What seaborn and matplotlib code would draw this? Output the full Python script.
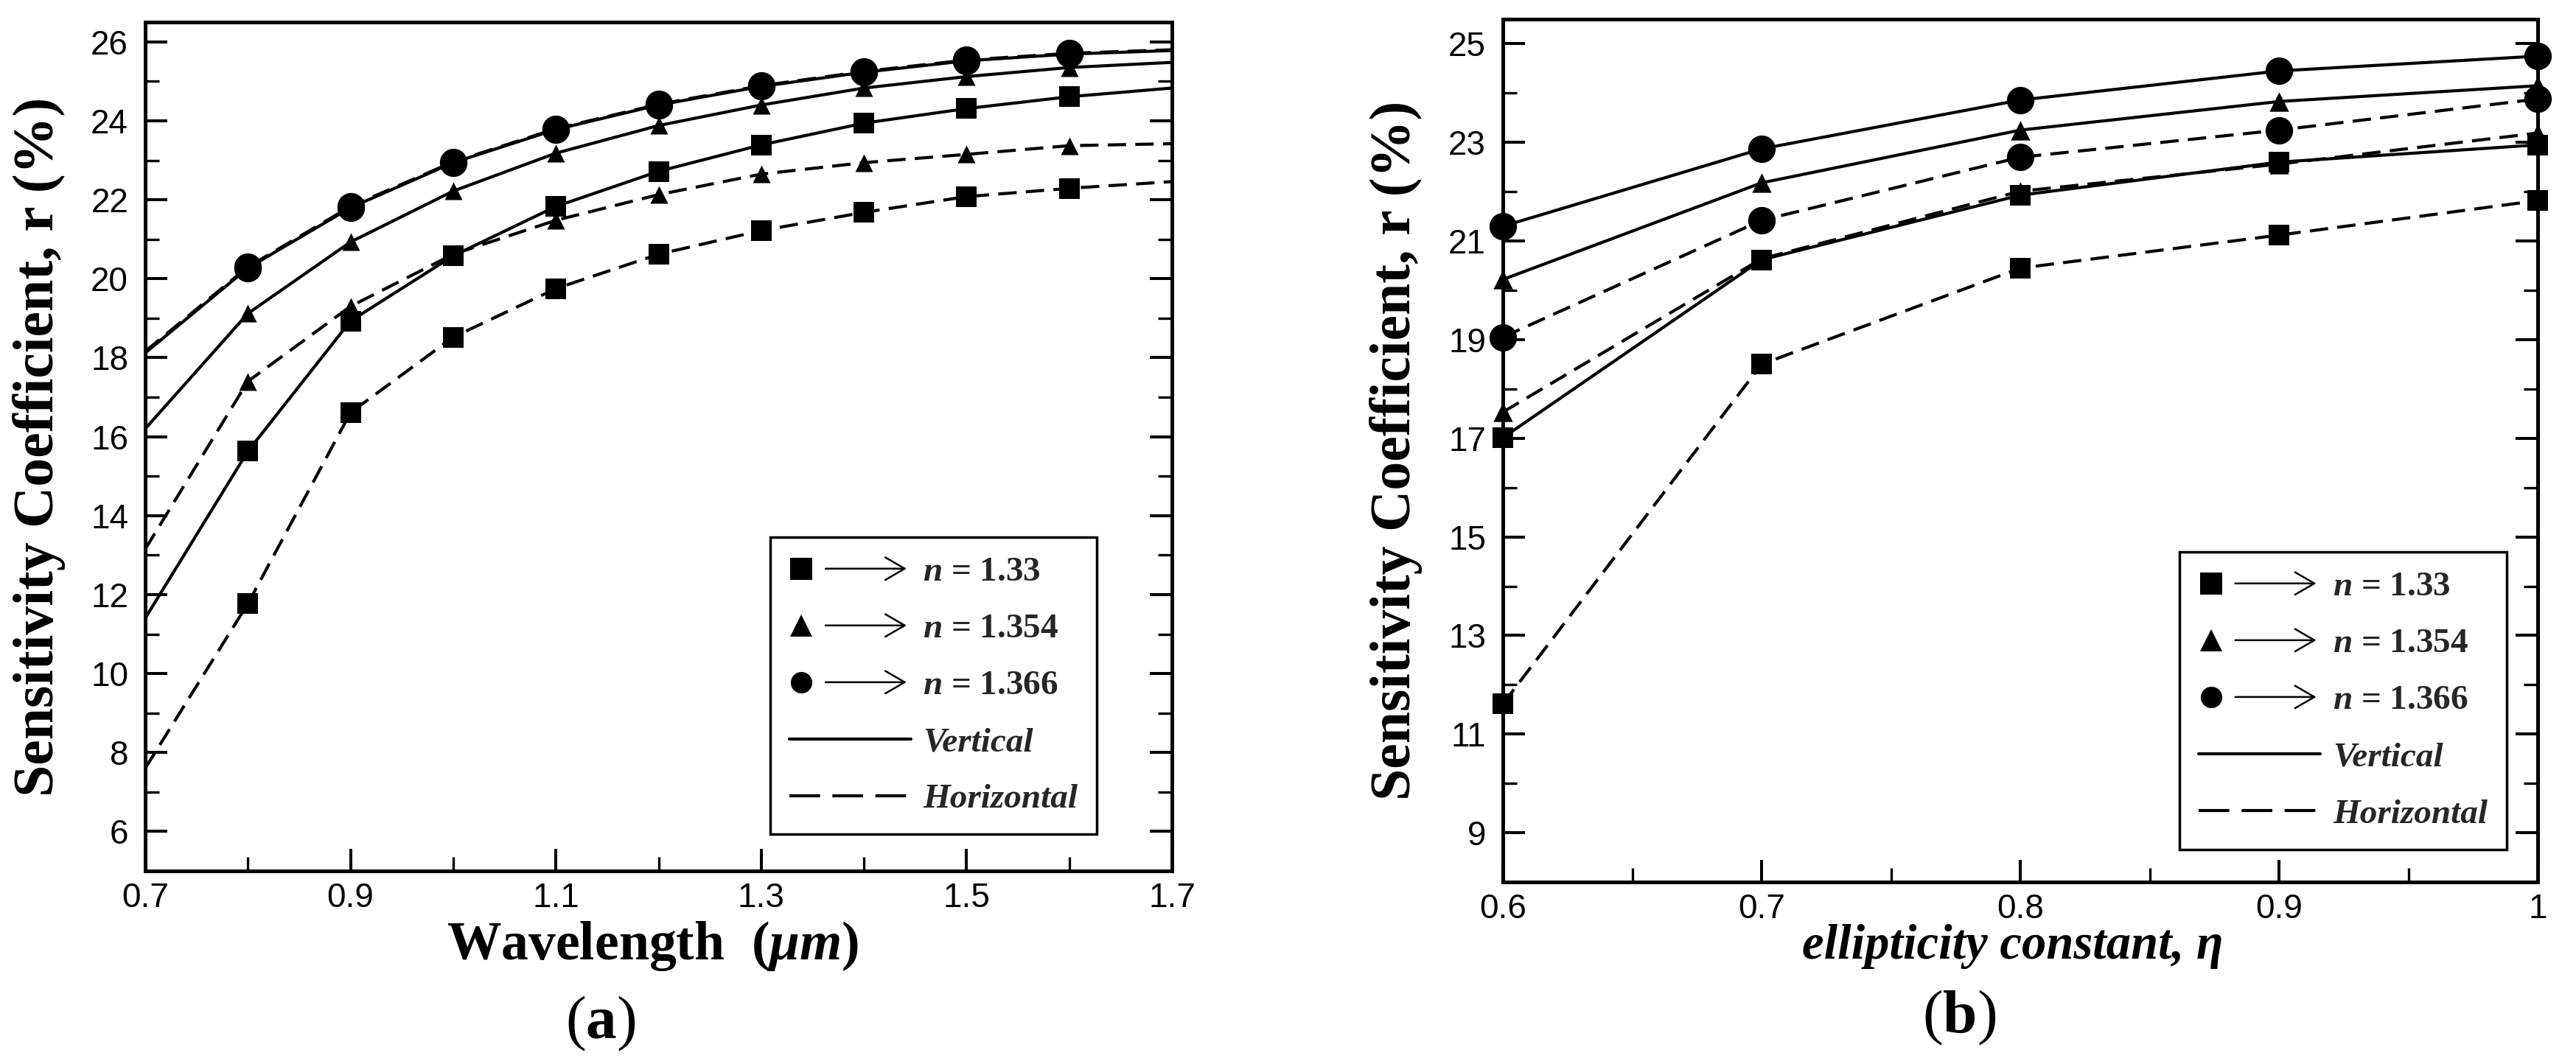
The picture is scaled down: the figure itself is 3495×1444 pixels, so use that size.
import numpy as np
import pandas as pd
import matplotlib
matplotlib.use("Agg")
import matplotlib.pyplot as plt
import seaborn as sns
from matplotlib.lines import Line2D
from matplotlib.patches import FancyArrowPatch
from matplotlib.legend_handler import HandlerBase
from matplotlib.ticker import FixedLocator, MultipleLocator

# ---------------- data ----------------
n_labels = ["1.33", "1.354", "1.366"]
pol_labels = ["Vertical", "Horizontal"]

# panel (a): wavelength in micrometres
wavelength = [0.7, 0.8, 0.9, 1.0, 1.1, 1.2, 1.3, 1.4, 1.5, 1.6, 1.7]
a_v_133 = [11.40, 15.63, 18.93, 20.58, 21.83, 22.72, 23.39, 23.94, 24.31, 24.61, 24.83]
a_v_1354 = [16.20, 19.12, 20.93, 22.22, 23.18, 23.88, 24.40, 24.83, 25.12, 25.35, 25.48]
a_v_1366 = [18.12, 20.27, 21.80, 22.94, 23.78, 24.40, 24.87, 25.23, 25.52, 25.69, 25.78]
a_h_133 = [7.60, 11.77, 16.61, 18.52, 19.75, 20.62, 21.22, 21.68, 22.08, 22.29, 22.46]
a_h_1354 = [13.15, 17.40, 19.30, 20.62, 21.48, 22.13, 22.65, 22.94, 23.15, 23.37, 23.42]
a_h_1366 = [18.16, 20.30, 21.83, 22.96, 23.80, 24.42, 24.89, 25.25, 25.54, 25.71, 25.80]

# panel (b): ellipticity constant
eta = [0.6, 0.7, 0.8, 0.9, 1.0]
b_v_133 = [17.01, 20.62, 21.93, 22.60, 22.95]
b_v_1354 = [20.22, 22.18, 23.25, 23.83, 24.15]
b_v_1366 = [21.30, 22.87, 23.86, 24.45, 24.75]
b_h_133 = [11.61, 18.50, 20.45, 21.12, 21.82]
b_h_1354 = [17.53, 20.64, 22.01, 22.56, 23.19]
b_h_1366 = [19.05, 21.42, 22.70, 23.25, 23.88]

# ticks
a_xticks = [0.7, 0.9, 1.1, 1.3, 1.5, 1.7]
a_xticklabels = ["0.7", "0.9", "1.1", "1.3", "1.5", "1.7"]
a_yticks = [6, 8, 10, 12, 14, 16, 18, 20, 22, 24, 26]
a_yticklabels = [str(v) for v in a_yticks]
b_xticks = [0.6, 0.7, 0.8, 0.9, 1.0]
b_xticklabels = ["0.6", "0.7", "0.8", "0.9", "1"]
b_yticks = [9, 11, 13, 15, 17, 19, 21, 23, 25]
b_yticklabels = [str(v) for v in b_yticks]


def long_df(x, series):
    rows = []
    for (n, pol), vals in series.items():
        for xi, yi in zip(x, vals):
            rows.append({"x": xi, "r": yi, "n": n, "pol": pol})
    return pd.DataFrame(rows)


df_a = long_df(wavelength, {
    ("1.33", "Vertical"): a_v_133, ("1.354", "Vertical"): a_v_1354,
    ("1.366", "Vertical"): a_v_1366, ("1.33", "Horizontal"): a_h_133,
    ("1.354", "Horizontal"): a_h_1354, ("1.366", "Horizontal"): a_h_1366})
df_b = long_df(eta, {
    ("1.33", "Vertical"): b_v_133, ("1.354", "Vertical"): b_v_1354,
    ("1.366", "Vertical"): b_v_1366, ("1.33", "Horizontal"): b_h_133,
    ("1.354", "Horizontal"): b_h_1354, ("1.366", "Horizontal"): b_h_1366})

# ---------------- style ----------------
sns.set_theme(style="ticks")
plt.rcParams.update({
    "font.family": ["Liberation Sans", "DejaVu Sans"],
    "mathtext.fontset": "custom",
    "mathtext.rm": "Liberation Serif:bold",
    "mathtext.bf": "Liberation Serif:bold",
    "mathtext.it": "Liberation Serif:italic:bold",
    "mathtext.fallback": "stix",
    "axes.linewidth": 3.6,
    "axes.edgecolor": "black",
    "lines.scale_dashes": True,
})

SERIF = "Liberation Serif"
marker_of = {"1.33": "s", "1.354": "^", "1.366": "o"}
palette = {n: "black" for n in n_labels}
dashes = {"Vertical": "", "Horizontal": (6, 3)}


class MarkerArrowHandler(HandlerBase):
    def create_artists(self, legend, orig_handle, xdescent, ydescent,
                       width, height, fontsize, trans):
        y = height / 2 - ydescent
        x0 = -xdescent
        mk = Line2D([x0 + 0.10 * width], [y], ls="none",
                    marker=orig_handle.get_marker(),
                    markersize=orig_handle.get_markersize(),
                    color="black", markeredgewidth=0)
        arr = FancyArrowPatch((x0 + 0.30 * width, y), (x0 + 0.965 * width, y),
                              arrowstyle="->,head_length=0.95,head_width=0.55",
                              mutation_scale=20, lw=1.8, color="black",
                              shrinkA=0, shrinkB=0)
        mk.set_transform(trans)
        arr.set_transform(trans)
        return [mk, arr]


def draw_panel(ax, df, marker_mask, msizes, xlim, ylim, xticks, xticklabels,
               yticks, yticklabels, xminor, yminor, legend_anchor):
    sns.lineplot(data=df, x="x", y="r", hue="n", style="pol",
                 hue_order=n_labels, style_order=pol_labels,
                 palette=palette, dashes=dashes, estimator=None,
                 sort=True, lw=3.0, legend=False, ax=ax, zorder=2)
    dm = df[marker_mask]
    for n in n_labels:
        sns.scatterplot(data=dm[dm["n"] == n], x="x", y="r",
                        marker=marker_of[n], s=msizes[n], color="black",
                        edgecolor="black", linewidth=0, legend=False,
                        ax=ax, zorder=3, clip_on=False)
    ax.set_xlim(*xlim)
    ax.set_ylim(*ylim)
    ax.xaxis.set_major_locator(FixedLocator(xticks))
    ax.set_xticklabels(xticklabels)
    ax.yaxis.set_major_locator(FixedLocator(yticks))
    ax.set_yticklabels(yticklabels)
    ax.xaxis.set_minor_locator(MultipleLocator(xminor))
    ax.yaxis.set_minor_locator(MultipleLocator(yminor))
    ax.tick_params(axis="both", which="both", direction="in", left=True,
                   right=True, top=False, bottom=True, width=2.9,
                   color="black", labelsize=33, labelcolor="black")
    ax.tick_params(which="major", length=21.6)
    ax.tick_params(which="minor", length=13.7, width=2.4)
    ax.tick_params(axis="x", pad=10.8)
    ax.tick_params(axis="y", pad=16.5)
    for sp in ax.spines.values():
        sp.set_visible(True)
        sp.set_linewidth(3.6)
        sp.set_color("black")
    ax.set_ylabel("Sensitivity Coefficient, r (%)", family=SERIF,
                  fontweight="bold", fontsize=56, color="black")
    ax.yaxis.set_label_coords(-0.0775, 0.5)

    handles = []
    for n in n_labels:
        handles.append(Line2D([], [], ls="none", marker=marker_of[n],
                              markersize=22 if n == "1.354" else 21,
                              color="black"))
    handles.append(Line2D([], [], color="black", lw=3))
    handles.append(Line2D([], [], color="black", lw=3, dashes=(10, 4)))
    labels = [rf"$n$ = {n}" for n in n_labels] + pol_labels
    hmap = {h: MarkerArrowHandler() for h in handles[:3]}
    leg = ax.legend(handles, labels, handler_map=hmap, loc="lower right",
                    bbox_to_anchor=legend_anchor, borderaxespad=0,
                    frameon=True, fancybox=False, framealpha=1,
                    edgecolor="black", handlelength=3.5, handletextpad=0.35,
                    labelspacing=0.72, borderpad=0.55,
                    prop={"family": SERIF, "weight": "bold", "size": 34})
    leg.get_frame().set_linewidth(2.5)
    for t in leg.get_texts()[3:]:
        t.set_fontstyle("italic")


fig = plt.figure(figsize=(34.95, 14.44), dpi=100)
ax_a = fig.add_axes([197 / 3495, 1 - 1182 / 1444, 1393 / 3495, 1152 / 1444])
ax_b = fig.add_axes([2039 / 3495, 1 - 1197 / 1444, 1404 / 3495, 1171 / 1444])

draw_panel(ax_a, df_a, (df_a["x"] > 0.75) & (df_a["x"] < 1.65),
           {"1.33": 400, "1.354": 300, "1.366": 720},
           (0.7, 1.7), (5, 26.5), a_xticks, a_xticklabels,
           a_yticks, a_yticklabels, 0.1, 1, (0.927, 0.043))
ax_a.set_xlabel(r"Wavelength  ($\mathit{\mu m}$)", family=SERIF,
                fontweight="bold", fontsize=53, color="black")
ax_a.xaxis.set_label_coords(0.494, -0.057)

draw_panel(ax_b, df_b, df_b["x"] > 0,
           {"1.33": 400, "1.354": 360, "1.366": 720},
           (0.6, 1.0), (8, 25.5), b_xticks, b_xticklabels,
           b_yticks, b_yticklabels, 0.05, 1, (0.970, 0.038))
ax_b.set_xlabel("ellipticity constant, η", family=SERIF, fontweight="bold",
                fontstyle="italic", fontsize=48, color="black")
ax_b.xaxis.set_label_coords(0.493, -0.049)

fig.text(815 / 3495, 1 - 1389 / 1444, r"($\mathbf{a}$)", family=SERIF,
         fontsize=60, ha="center", va="center", color="black")
fig.text(2658 / 3495, 1 - 1381 / 1444, r"($\mathbf{b}$)", family=SERIF,
         fontsize=60, ha="center", va="center", color="black")

fig.savefig("out.png", dpi=100, facecolor="white")
